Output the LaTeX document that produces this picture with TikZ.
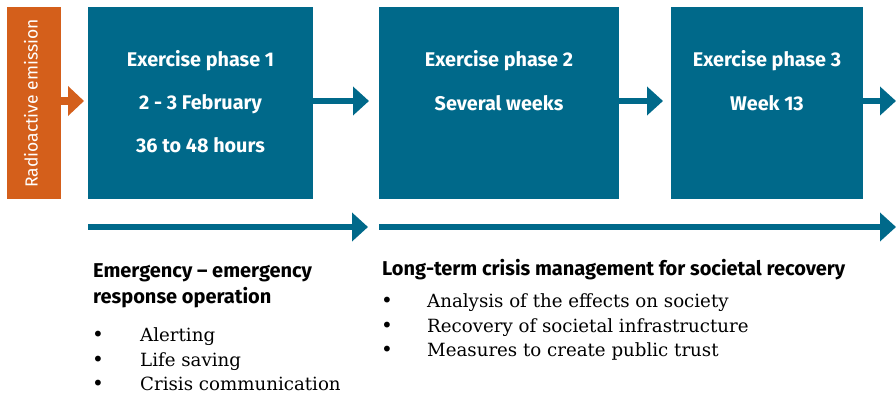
\documentclass[tikz,border=0pt]{standalone}
\usepackage{fontspec}
\setmainfont{DejaVu Serif}
\setsansfont{Fira Sans}
\usetikzlibrary{arrows.meta}
\definecolor{teal}{RGB}{0,105,138}
\definecolor{orng}{RGB}{212,95,27}
\tikzset{
  phase/.style={fill=teal, draw=none, inner sep=0pt},
  emis/.style={fill=orng, draw=none, inner sep=0pt},
  boxtxt/.style={text=white, anchor=base, inner sep=0pt, font=\sffamily\bfseries\fontsize{19.8}{22}\selectfont},
  head/.style={anchor=base west, inner sep=0pt, font=\sffamily\bfseries\fontsize{20}{22}\selectfont},
  item/.style={anchor=base west, inner sep=0pt, text depth=0pt, font=\rmfamily\fontsize{18.2}{22}\selectfont},
  bul/.style={anchor=base, inner sep=0pt, text depth=0pt, font=\rmfamily\fontsize{20}{22}\selectfont},
  flow/.style={draw=teal, line width=6pt, -{Triangle[length=16pt,width=28pt]}},
  oflow/.style={draw=orng, line width=8pt, -{Triangle[length=16pt,width=29pt]}},
}
\begin{document}
\begin{tikzpicture}[x=1pt,y=-1pt]
\useasboundingbox (0,0) rectangle (896,395);
% boxes
\node[emis, minimum width=54pt, minimum height=192pt] (em) at (34,103) {};
\node[text=white, rotate=90, inner sep=0pt, font=\sffamily\fontsize{17.5}{20}\selectfont] (emt) at (31,103.5) {Radioactive emission};
\node[phase, minimum width=225pt, minimum height=192pt] (b1) at (200.5,103) {};
\node[phase, minimum width=240pt, minimum height=192pt] (b2) at (499,103) {};
\node[phase, minimum width=192pt, minimum height=192pt] (b3) at (767,103) {};
% box texts
\node[boxtxt] (t11) at (200.5,67) {Exercise phase 1};
\node[boxtxt] (t12) at (200.5,110) {2 - 3 February};
\node[boxtxt] (t13) at (200.5,153) {36 to 48 hours};
\node[boxtxt] (t21) at (499,67) {Exercise phase 2};
\node[boxtxt] (t22) at (499,111) {Several weeks};
\node[boxtxt] (t31) at (767,67) {Exercise phase 3};
\node[boxtxt] (t32) at (767,111) {Week 13};
% connectors
\coordinate (o1) at (61,101);
\coordinate (o2) at (84,101);
\draw[oflow] (o1) -- (o2);
\coordinate (a1) at (313,101);
\coordinate (a2) at (369,101);
\draw[flow] (a1) -- (a2);
\coordinate (c1) at (619,101);
\coordinate (c2) at (663,101);
\draw[flow] (c1) -- (c2);
\coordinate (d1) at (863,101);
\coordinate (d2) at (896,101);
\draw[flow] (d1) -- (d2);
% timeline arrows
\coordinate (l1) at (88,227);
\coordinate (l2) at (368,227);
\draw[flow] (l1) -- (l2);
\coordinate (r1) at (379,227);
\coordinate (r2) at (896,227);
\draw[flow] (r1) -- (r2);
% left text
\node[head] (h1) at (93,277) {Emergency -- emergency};
\node[head] (h2) at (93,303) {response operation};
\node[bul] (lb1) at (98,341) {•};
\node[item] (li1) at (140,341) {Alerting};
\node[bul] (lb2) at (98,366) {•};
\node[item] (li2) at (140,366) {Life saving};
\node[bul] (lb3) at (98,390) {•};
\node[item] (li3) at (140,390) {Crisis communication};
% right text
\node[head] (h3) at (382,275) {Long-term crisis management for societal recovery};
\node[bul] (rb1) at (387,307) {•};
\node[item] (ri1) at (427,307) {Analysis of the effects on society};
\node[bul] (rb2) at (387,332) {•};
\node[item] (ri2) at (427,332) {Recovery of societal infrastructure};
\node[bul] (rb3) at (387,356) {•};
\node[item] (ri3) at (427,356) {Measures to create public trust};
\end{tikzpicture}
\end{document}
